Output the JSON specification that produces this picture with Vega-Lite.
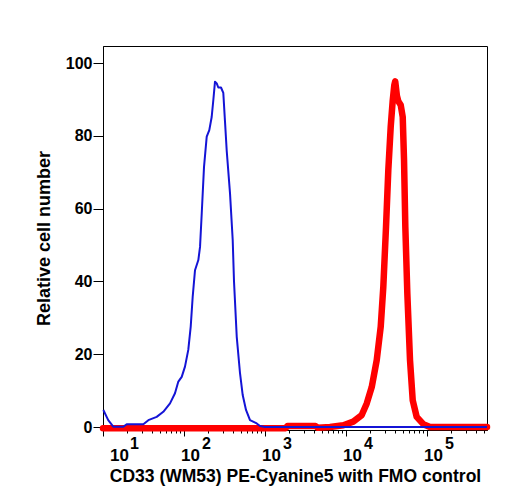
{
  "$schema": "https://vega.github.io/schema/vega-lite/v6.json",
  "width": 384,
  "height": 384,
  "autosize": "none",
  "padding": {"left": 103, "top": 46, "right": 21, "bottom": 70},
  "config": {
    "view": {"stroke": "black", "strokeWidth": 1},
    "font": "Liberation Sans",
    "axis": {
      "grid": false,
      "domainColor": "black",
      "domainWidth": 1,
      "tickColor": "black",
      "tickWidth": 1,
      "labelColor": "black",
      "titleColor": "black",
      "labelFont": "Liberation Sans",
      "titleFont": "Liberation Sans",
      "labelFontWeight": "bold",
      "titleFontWeight": "bold"
    }
  },
  "datasets": {
    "stained": [
      {"intensity": 10, "count": -0.3},
      {"intensity": 1800, "count": -0.3},
      {"intensity": 1900, "count": 0.3},
      {"intensity": 4200, "count": 0.3},
      {"intensity": 4500, "count": -0.2},
      {"intensity": 6340, "count": 0},
      {"intensity": 9270, "count": 0.5},
      {"intensity": 12300, "count": 1.5},
      {"intensity": 15630, "count": 3.3},
      {"intensity": 18030, "count": 6.5},
      {"intensity": 20770, "count": 11},
      {"intensity": 23940, "count": 18.4},
      {"intensity": 26820, "count": 27.6},
      {"intensity": 28860, "count": 38.5},
      {"intensity": 31170, "count": 55},
      {"intensity": 33270, "count": 70.6},
      {"intensity": 35620, "count": 82.5},
      {"intensity": 37730, "count": 89.8},
      {"intensity": 39480, "count": 94},
      {"intensity": 40500, "count": 95},
      {"intensity": 42500, "count": 91},
      {"intensity": 44230, "count": 89.5},
      {"intensity": 47330, "count": 88.5},
      {"intensity": 50120, "count": 85.2},
      {"intensity": 52010, "count": 73.4},
      {"intensity": 53970, "count": 55},
      {"intensity": 57130, "count": 36.7},
      {"intensity": 61660, "count": 18.4},
      {"intensity": 66560, "count": 7.4},
      {"intensity": 74570, "count": 2.8},
      {"intensity": 89980, "count": 0.8},
      {"intensity": 108800, "count": 0},
      {"intensity": 550000, "count": 0}
    ],
    "fmo": [
      {"intensity": 10.1, "count": 4.7},
      {"intensity": 11.6, "count": 1.9},
      {"intensity": 13.4, "count": 0.1},
      {"intensity": 17.8, "count": 0.1},
      {"intensity": 19.6, "count": 0.8},
      {"intensity": 31.5, "count": 0.8},
      {"intensity": 36.3, "count": 1.9},
      {"intensity": 46.0, "count": 2.8},
      {"intensity": 55.5, "count": 4.2},
      {"intensity": 67.2, "count": 6.5},
      {"intensity": 77.4, "count": 9.3},
      {"intensity": 85.1, "count": 12.5},
      {"intensity": 93.7, "count": 13.8},
      {"intensity": 102.8, "count": 16.6},
      {"intensity": 112.9, "count": 21.2},
      {"intensity": 121.0, "count": 27.6},
      {"intensity": 128.0, "count": 35.8},
      {"intensity": 136.7, "count": 43.1},
      {"intensity": 150.3, "count": 45.9},
      {"intensity": 157.7, "count": 49.5},
      {"intensity": 165.5, "count": 58.7},
      {"intensity": 176.6, "count": 71.5},
      {"intensity": 190.7, "count": 79.8},
      {"intensity": 205.2, "count": 81.6},
      {"intensity": 219.6, "count": 85.2},
      {"intensity": 230.0, "count": 89.8},
      {"intensity": 241.3, "count": 94.9},
      {"intensity": 253.5, "count": 94.4},
      {"intensity": 265.1, "count": 93.3},
      {"intensity": 286.2, "count": 93.3},
      {"intensity": 305.6, "count": 91.8},
      {"intensity": 320.6, "count": 84},
      {"intensity": 336.5, "count": 76},
      {"intensity": 369.8, "count": 64.2},
      {"intensity": 399.2, "count": 51.4},
      {"intensity": 414.3, "count": 40},
      {"intensity": 447.7, "count": 24.8},
      {"intensity": 491.3, "count": 14.8},
      {"intensity": 530.4, "count": 8.8},
      {"intensity": 582.6, "count": 4.7},
      {"intensity": 652.7, "count": 1.9},
      {"intensity": 790.1, "count": 1.0},
      {"intensity": 867.5, "count": 0.3},
      {"intensity": 1000, "count": 0},
      {"intensity": 550000, "count": 0}
    ]
  },
  "layer": [
    {
      "data": {"name": "stained"},
      "mark": {"type": "line", "color": "#ff0000", "strokeWidth": 6.5, "strokeJoin": "round", "strokeCap": "round"},
      "encoding": {
        "x": {
          "field": "intensity",
          "type": "quantitative",
          "scale": {"type": "log", "domain": [10, 550000], "nice": false},
          "axis": {
            "orient": "bottom",
            "values": [10, 20, 30, 40, 50, 60, 70, 80, 90, 100, 200, 300, 400, 500, 600, 700, 800, 900, 1000, 2000, 3000, 4000, 5000, 6000, 7000, 8000, 9000, 10000, 20000, 30000, 40000, 50000, 60000, 70000, 80000, 90000, 100000, 200000, 300000, 400000, 500000],
            "labelExpr": "indexof([10, 100, 1000, 10000, 100000], datum.value) >= 0 ? '10' : ''",
            "tickSize": {"condition": {"test": "indexof([10, 100, 1000, 10000, 100000], datum.value) >= 0", "value": 6}, "value": 3},
            "labelOffset": {"condition": {"test": "datum.value == 10", "value": 16}, "value": 6},
            "labelFlush": false,
            "labelOverlap": false,
            "labelFontSize": 17,
            "labelPadding": 11,
            "title": "CD33 (WM53) PE-Cyanine5 with FMO control",
            "titleFontSize": 17.5,
            "titlePadding": 4
          }
        },
        "y": {
          "field": "count",
          "type": "quantitative",
          "scale": {"domain": [-0.8, 104.7], "nice": false, "zero": false},
          "axis": {
            "values": [0, 5, 10, 15, 20, 25, 30, 35, 40, 45, 50, 55, 60, 65, 70, 75, 80, 85, 90, 95, 100],
            "labelExpr": "datum.value % 20 == 0 ? datum.label : ''",
            "tickSize": {"condition": {"test": "datum.value % 20 == 0", "value": 10}, "value": 5},
            "labelOverlap": false,
            "labelFontSize": 16,
            "labelPadding": 1,
            "title": "Relative cell number",
            "titleFontSize": 18,
            "titlePadding": 12
          }
        }
      }
    },
    {
      "data": {"name": "fmo"},
      "mark": {"type": "line", "color": "#1414d6", "strokeWidth": 2, "strokeJoin": "round"},
      "encoding": {
        "x": {
          "field": "intensity",
          "type": "quantitative",
          "scale": {"type": "log", "domain": [10, 550000], "nice": false},
          "axis": {
            "orient": "bottom",
            "values": [10, 100, 1000, 10000, 100000],
            "labelExpr": "format(round(log(datum.value) / LN10), 'd')",
            "domain": false,
            "ticks": false,
            "labelFlush": false,
            "labelOverlap": false,
            "labelFontSize": 16,
            "labelPadding": 5,
            "labelOffset": {"condition": {"test": "datum.value == 10", "value": 31}, "value": 22},
            "title": null
          }
        },
        "y": {"field": "count", "type": "quantitative"}
      }
    }
  ],
  "resolve": {"axis": {"x": "independent"}}
}
